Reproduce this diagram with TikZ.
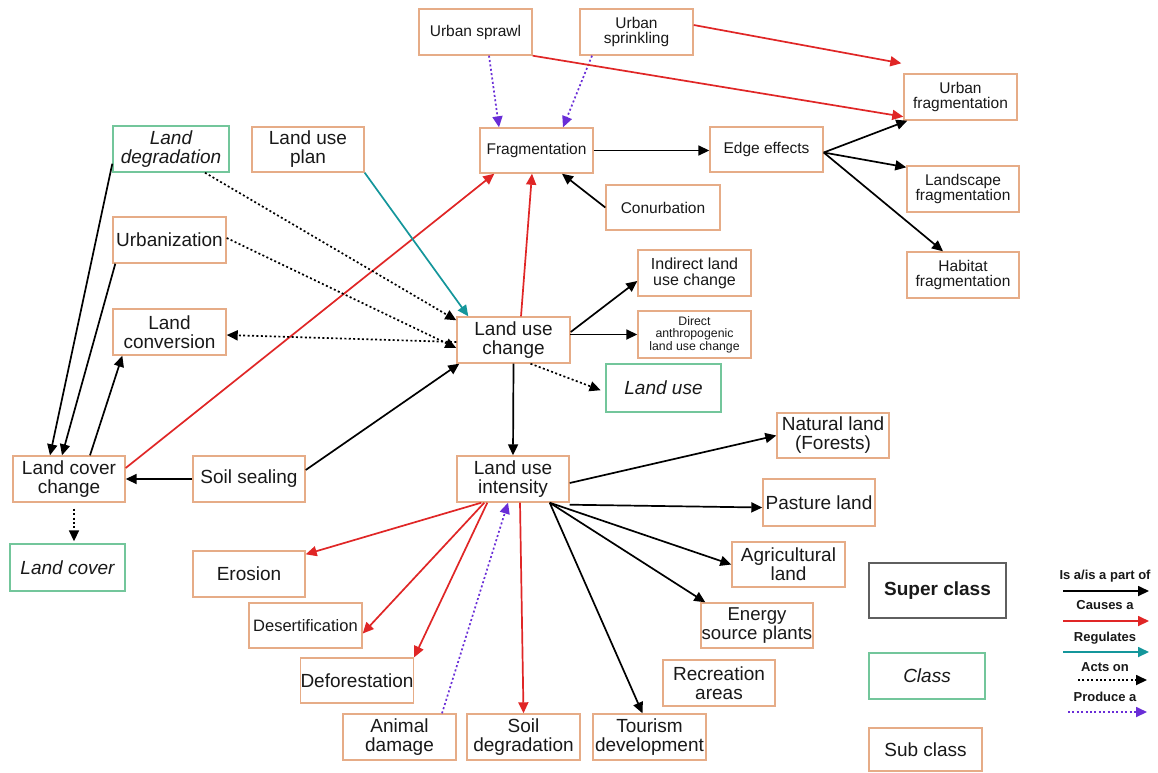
\documentclass[tikz,border=0pt]{standalone}
\usepackage{fontspec}
\setmainfont{Liberation Sans}
\usetikzlibrary{arrows.meta}

\definecolor{subcol}{RGB}{230,172,135}
\definecolor{clscol}{RGB}{115,198,155}
\definecolor{supcol}{RGB}{95,95,95}
\definecolor{causecol}{RGB}{224,38,38}
\definecolor{regcol}{RGB}{20,150,155}
\definecolor{prodcol}{RGB}{105,45,215}
\definecolor{txt}{RGB}{25,25,25}

% box from (x1,y1) to (x2,y2) in pixel units
\newcommand\bx[7]{\node[#6, minimum width={#4pt-#2pt}, minimum height={#5pt-#3pt}] (#1) at ({(#2+#4)/2},{(#3+#5)/2}) {#7};}

\tikzset{
  box/.style={draw, line width=1.4pt, align=center, inner sep=0pt, text=txt},
  sub/.style={box, draw=subcol},
  L/.style={font=\fontsize{19}{19}\selectfont},
  M/.style={font=\fontsize{15.5}{15.5}\selectfont},
  cls/.style={box, draw=clscol, font=\fontsize{19}{19}\selectfont\itshape},
  sup/.style={box, draw=supcol, font=\fontsize{19}{19}\selectfont\bfseries},
  isa/.style={-{Triangle[length=11pt,width=10pt]}, line width=1.7pt, draw=black},
  causes/.style={isa, draw=causecol, color=causecol},
  regulates/.style={isa, draw=regcol, color=regcol},
  acts/.style={isa, dash pattern=on 2pt off 2.4pt},
  produce/.style={isa, draw=prodcol, color=prodcol, dash pattern=on 2pt off 2.4pt},
  legtxt/.style={font=\fontsize{13}{13}\selectfont\bfseries, text=txt, inner sep=0pt}
}

\begin{document}
\begin{tikzpicture}[x=1pt,y=-1pt]
\useasboundingbox[fill=white] (0,0) rectangle (1158,772);

% ---- nodes ----
\bx{usprawl}{419}{9}{532}{55}{sub,M}{Urban sprawl}
\bx{usprink}{580}{9}{693}{55}{sub,M}{Urban\\sprinkling}
\bx{frag}{480}{128}{593}{173}{sub,M}{Fragmentation}
\bx{conurb}{606}{185}{720}{230}{sub,M}{Conurbation}
\bx{edge}{710}{127}{823}{172}{sub,M}{Edge effects}
\bx{ufrag}{904}{74}{1017}{120}{sub,M}{Urban\\fragmentation}
\bx{lfrag}{907}{166}{1019}{212}{sub,M}{Landscape\\fragmentation}
\bx{hfrag}{907}{252}{1019}{298}{sub,M}{Habitat\\fragmentation}
\bx{indirect}{638}{250}{751}{296}{sub,font=\fontsize{16}{16}\selectfont}{Indirect land\\use change}
\bx{direct}{638}{311}{751}{358}{sub,font=\fontsize{12.3}{12.5}\selectfont}{Direct\\anthropogenic\\land use change}
\bx{luse}{606}{364}{721}{412}{cls}{Land use}
\bx{luc}{457}{317}{570}{363}{sub,L}{Land use\\change}
\bx{lui}{457}{456}{569}{502}{sub,L}{Land use\\intensity}
\bx{ldeg}{113}{126}{229}{172}{cls}{Land\\degradation}
\bx{lplan}{252}{127}{364}{172}{sub,L}{Land use\\plan}
\bx{urbz}{113}{217}{226}{263}{sub,L}{Urbanization}
\bx{lconv}{113}{309}{226}{355}{sub,L}{Land\\conversion}
\bx{lcc}{13}{456}{125}{502}{sub,L}{Land cover\\change}
\bx{soil}{193}{456}{305}{502}{sub,L}{Soil sealing}
\bx{lcov}{10}{544}{125}{591}{cls}{Land cover}
\bx{erosion}{193}{551}{305}{597}{sub,L}{Erosion}
\bx{desert}{249}{603}{362}{648}{sub,font=\fontsize{16.5}{16.5}\selectfont}{Desertification}
\bx{defor}{301}{658}{413}{703}{sub,L}{Deforestation}
\bx{animal}{343}{714}{456}{760}{sub,L}{Animal\\damage}
\bx{soildeg}{467}{714}{580}{760}{sub,L}{Soil\\degradation}
\bx{tourism}{593}{714}{706}{760}{sub,L}{Tourism\\development}
\bx{recre}{663}{660}{775}{706}{sub,L}{Recreation\\areas}
\bx{energy}{701}{603}{813}{648}{sub,font=\fontsize{18.6}{18.6}\selectfont}{Energy\\source plants}
\bx{agri}{732}{542}{845}{587}{sub,L}{Agricultural\\land}
\bx{pasture}{763}{479}{875}{526}{sub,L}{Pasture land}
\bx{natural}{777}{413}{889}{458}{sub,L}{Natural land\\(Forests)}

% ---- key boxes ----
\bx{superkey}{869}{563}{1006}{618}{sup}{Super class}
\bx{classkey}{869}{653}{985}{699}{cls}{Class}
\bx{subkey}{869}{728}{982}{771}{sub,L}{Sub class}

% ---- fragmentation cluster ----
\draw[produce] ([xshift=13.5pt]usprawl.south) -- ([xshift=-37.5pt]frag.north);
\draw[produce] ([xshift=-44.5pt]usprink.south) -- ([xshift=26.5pt]frag.north);
\draw[causes] ([yshift=7pt]usprink.east) -- ([xshift=-2pt,yshift=10pt]ufrag.north west);
\draw[causes] (usprawl.south east) -- ([yshift=4pt]ufrag.south west);
\draw[isa] (frag.east) -- (frag.east -| edge.west);
\draw[isa] (conurb.west) -- ([xshift=25.5pt]frag.south);
\draw[isa] ([yshift=-3pt]edge.east) -- ([xshift=4pt]ufrag.south west);
\draw[isa] ([yshift=-3pt]edge.east) -- ([yshift=-2pt]lfrag.north west);
\draw[isa] ([yshift=-3pt]edge.east) -- ([xshift=-20pt]hfrag.north);

% ---- land use change ----
\draw[causes] ([xshift=7.5pt]luc.north) -- ([xshift=-4.5pt]frag.south);
\draw[causes] ([yshift=11pt]lcc.east) -- ([xshift=15pt]frag.south west);
\draw[regulates] (lplan.south east) -- ([xshift=12pt]luc.north west);
\draw[acts] ([xshift=34pt]ldeg.south) -- ([yshift=-4pt]luc.north west);
\draw[acts] ([yshift=2pt]urbz.east) -- ([yshift=-8pt]luc.west);
\draw[acts] ([yshift=-2pt]luc.west) -- ([yshift=-3pt]lconv.east);
\draw[isa] ([yshift=9pt]soil.east) -- ([xshift=3pt]luc.south west);
\draw[isa] (soil.west) -- (lcc.east);
\draw[isa] ([yshift=9pt]ldeg.south west) -- ([xshift=-19pt]lcc.north);
\draw[isa] ([xshift=3pt]urbz.south west) -- ([xshift=-7pt]lcc.north);
\draw[isa] ([xshift=21pt]lcc.north) -- ([xshift=10pt]lconv.south west);
\draw[acts, shorten <=6pt, shorten >=2pt] ([xshift=5pt]lcc.south) -- ([xshift=5pt]lcc.south |- lcov.north);
\draw[isa] ([yshift=8pt]luc.east) -- ([yshift=-8pt]indirect.west);
\draw[isa] ([yshift=6pt]luc.east) -- (luc.east |- direct.west) -- (direct.west);
\draw[acts, shorten >=5pt] ([xshift=17pt]luc.south) -- ([yshift=-4pt]luse.west);
\draw[isa] (luc.south) -- (lui.north);

% ---- land use intensity ----
\draw[isa] ([yshift=-4pt]lui.east) -- (natural.west);
\draw[isa] ([yshift=-2pt]lui.south east) -- ([yshift=-5pt]pasture.west);
\draw[isa] ([xshift=-20pt]lui.south east) -- (agri.west);
\draw[isa] ([xshift=-20pt]lui.south east) -- ([xshift=5pt]energy.north west);
\draw[isa] ([xshift=-20pt]lui.south east) -- ([xshift=-7pt]tourism.north);
\draw[causes] ([xshift=25pt]lui.south west) -- ([yshift=-4pt]erosion.north east);
\draw[causes] ([xshift=28pt]lui.south west) -- ([yshift=-8pt]desert.east);
\draw[causes] ([xshift=31pt]lui.south west) -- (defor.north east);
\draw[produce] ([xshift=42.5pt]animal.north) -- ([xshift=-5pt]lui.south);
\draw[causes] ([xshift=7pt]lui.south) -- (soildeg.north);

% ---- arrow key ----
\node[legtxt] (kisa) at (1105,576) {Is a/is a part of};
\node[legtxt] (kcause) at (1105,605) {Causes a};
\node[legtxt] (kreg) at (1105,638) {Regulates};
\node[legtxt] (kacts) at (1105,667) {Acts on};
\node[legtxt] (kprod) at (1105,697) {Produce a};
\coordinate (a1) at (1063,591); \coordinate (b1) at (1149,591);
\coordinate (a2) at (1063,621); \coordinate (b2) at (1149,621);
\coordinate (a3) at (1063,652); \coordinate (b3) at (1149,652);
\coordinate (a4) at (1078,680); \coordinate (b4) at (1147,680);
\coordinate (a5) at (1068,712); \coordinate (b5) at (1147,712);
\draw[isa] (a1) -- (b1);
\draw[causes] (a2) -- (b2);
\draw[regulates] (a3) -- (b3);
\draw[acts] (a4) -- (b4);
\draw[produce] (a5) -- (b5);
\end{tikzpicture}
\end{document}
